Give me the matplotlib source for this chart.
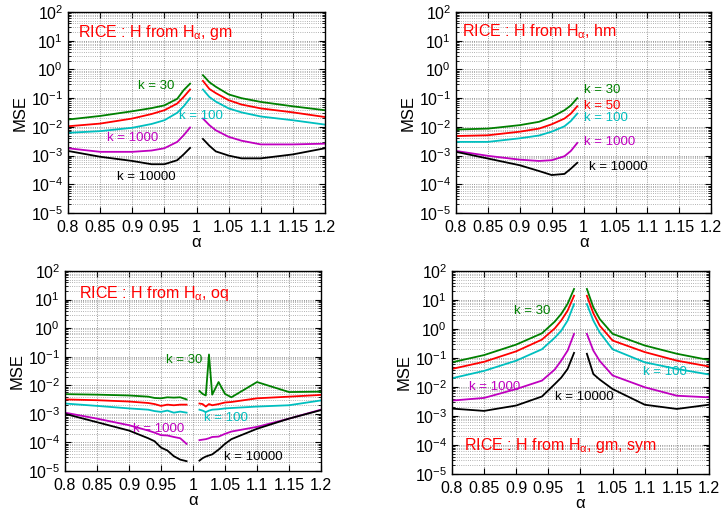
import matplotlib
matplotlib.use("Agg")
import matplotlib.pyplot as plt
from matplotlib.ticker import LogLocator, LogFormatterMathtext, FixedLocator, NullFormatter

plt.rcParams['font.family'] = ['Liberation Sans', 'DejaVu Sans']
plt.rcParams['mathtext.fontset'] = 'custom'
plt.rcParams['mathtext.rm'] = 'Liberation Sans'
plt.rcParams['mathtext.it'] = 'Liberation Sans:italic'

# ---------------- data ----------------
# Panel 1: gm
p1_aL = [0.80, 0.85, 0.90, 0.93, 0.95, 0.97, 0.98, 0.99]
p1_aR = [1.01, 1.02, 1.03, 1.05, 1.07, 1.10, 1.15, 1.20]
p1_k30_L = [1.8e-2, 2.4e-2, 3.5e-2, 4.5e-2, 5.6e-2, 9.5e-2, 0.19, 0.32]
p1_k30_R = [0.63, 0.36, 0.25, 0.135, 0.10, 0.074, 0.052, 0.038]
p1_k50_L = [1.05e-2, 1.3e-2, 1.95e-2, 2.8e-2, 3.8e-2, 6.5e-2, 0.11, 0.2]
p1_k50_R = [0.4, 0.21, 0.15, 0.085, 0.06, 0.044, 0.032, 0.022]
p1_k100_L = [6.2e-3, 7.1e-3, 9.3e-3, 1.26e-2, 1.7e-2, 3.1e-2, 5.2e-2, 0.1]
p1_k100_R = [0.2, 0.11, 0.076, 0.044, 0.032, 0.023, 0.017, 0.012]
p1_k1000_L = [1.8e-3, 1.35e-3, 1.35e-3, 1.5e-3, 1.8e-3, 3.0e-3, 5.1e-3, 9.5e-3]
p1_k1000_R = [1.95e-2, 1.15e-2, 7.6e-3, 4.5e-3, 3.3e-3, 2.45e-3, 2.45e-3, 2.6e-3]
p1_k10000_L = [1.45e-3, 9.1e-4, 6.5e-4, 5.0e-4, 5.0e-4, 6.9e-4, 1.1e-3, 1.85e-3]
p1_k10000_R = [3.8e-3, 2.2e-3, 1.4e-3, 1.0e-3, 8.0e-4, 8.0e-4, 1.1e-3, 1.8e-3]

# Panel 2: hm (left side only)
p2_aL = [0.80, 0.85, 0.90, 0.93, 0.95, 0.97, 0.98, 0.99]
p2_k30 = [8.1e-3, 8.7e-3, 1.15e-2, 1.5e-2, 2.2e-2, 3.8e-2, 5.6e-2, 0.1]
p2_k50 = [4.8e-3, 5.1e-3, 6.8e-3, 8.7e-3, 1.23e-2, 1.95e-2, 2.9e-2, 5.2e-2]
p2_k100 = [3.0e-3, 3.0e-3, 4.0e-3, 5.0e-3, 6.8e-3, 1.05e-2, 1.6e-2, 2.9e-2]
p2_k1000 = [1.45e-3, 9.8e-4, 7.2e-4, 6.5e-4, 6.9e-4, 9.5e-4, 1.45e-3, 2.75e-3]
p2_k10000 = [1.35e-3, 7.9e-4, 4.6e-4, 2.9e-4, 2.1e-4, 2.3e-4, 3.5e-4, 5.6e-4]

# Panel 3: oq
p3_aL = [0.80, 0.85, 0.90, 0.93, 0.94, 0.95, 0.96, 0.97, 0.98, 0.99]
p3_aR = [1.01, 1.015, 1.02, 1.025, 1.03, 1.04, 1.05, 1.06, 1.10, 1.15, 1.20]
p3_k30_L = [4.9e-3, 4.7e-3, 4.4e-3, 4.0e-3, 3.6e-3, 3.5e-3, 3.8e-3, 3.7e-3, 3.8e-3, 3.2e-3]
p3_k30_R = [6.3e-3, 5.0e-3, 4.4e-3, 0.12, 4.7e-3, 1.3e-2, 5.0e-3, 3.8e-3, 1.3e-2, 5.8e-3, 6.0e-3]
p3_k50_L = [3.2e-3, 3.0e-3, 2.7e-3, 2.4e-3, 2.2e-3, 1.9e-3, 2.1e-3, 2.0e-3, 2.1e-3, 2.1e-3]
p3_k50_R = [2.3e-3, 2.2e-3, 1.8e-3, 2.2e-3, 2.0e-3, 2.2e-3, 2.5e-3, 2.6e-3, 3.5e-3, 4.0e-3, 4.6e-3]
p3_k100_L = [2.3e-3, 1.9e-3, 1.55e-3, 1.4e-3, 1.25e-3, 1.17e-3, 1.3e-3, 1.1e-3, 1.2e-3, 1.1e-3]
p3_k100_R = [1.4e-3, 1.3e-3, 1.15e-3, 1.3e-3, 1.4e-3, 1.45e-3, 1.55e-3, 1.6e-3, 1.8e-3, 2.0e-3, 2.95e-3]
p3_k1000_L = [1.1e-3, 6.8e-4, 4.0e-4, 2.6e-4, 2.2e-4, 1.8e-4, 1.75e-4, 1.55e-4, 1.4e-4, 8.9e-5]
p3_k1000_R = [1.2e-4, 1.25e-4, 1.3e-4, 1.4e-4, 1.55e-4, 1.6e-4, 2.0e-4, 2.4e-4, 3.5e-4, 6.8e-4, 1.4e-3]
p3_k10000_L = [1.0e-3, 5.1e-4, 2.6e-4, 1.4e-4, 1.1e-4, 6.6e-5, 5.2e-5, 3.3e-5, 2.5e-5, 2.2e-5]
p3_k10000_R = [2.3e-5, 2.8e-5, 3.2e-5, 3.5e-5, 3.8e-5, 5.6e-5, 8.9e-5, 1.3e-4, 3.0e-4, 6.8e-4, 1.35e-3]

# Panel 4: gm, sym
p4_aL = [0.80, 0.85, 0.90, 0.94, 0.96, 0.97, 0.98, 0.99]
p4_aR = [1.01, 1.02, 1.03, 1.05, 1.10, 1.15, 1.20]
p4_k30_L = [0.071, 0.126, 0.29, 0.71, 1.8, 3.3, 7.4, 24]
p4_k30_R = [24, 5.6, 2.2, 0.68, 0.27, 0.14, 0.085]
p4_k50_L = [0.042, 0.074, 0.17, 0.43, 1.05, 1.95, 4.3, 14]
p4_k50_R = [14, 3.5, 1.3, 0.4, 0.16, 0.081, 0.051]
p4_k100_L = [0.02, 0.036, 0.081, 0.2, 0.5, 0.87, 1.95, 7.2]
p4_k100_R = [7.2, 1.95, 0.76, 0.2, 0.071, 0.042, 0.027]
p4_k1000_L = [3.4e-3, 4.2e-3, 8.5e-3, 1.66e-2, 4.0e-2, 8.1e-2, 0.18, 0.68]
p4_k1000_R = [0.68, 0.18, 0.079, 0.025, 9.8e-3, 5.0e-3, 4.4e-3]
p4_k10000_L = [1.8e-3, 1.5e-3, 2.3e-3, 4.7e-3, 1.26e-2, 2.1e-2, 4.2e-2, 0.15]
p4_k10000_R = [0.14, 2.8e-2, 1.8e-2, 8.5e-3, 2.45e-3, 1.75e-3, 2.45e-3]

xticks = [0.8, 0.85, 0.9, 0.95, 1, 1.05, 1.1, 1.15, 1.2]
xticklabels = ['0.8', '0.85', '0.9', '0.95', '1', '1.05', '1.1', '1.15', '1.2']

C30, C50, C100, C1000, C10000 = '#008000', '#ff0000', '#00bfbf', '#bf00bf', '#000000'
TXT = '#ff0000'

fig = plt.figure(figsize=(7.25, 5.14), dpi=100)
positions = [
    [0.0938, 0.5856, 0.3545, 0.391],
    [0.629, 0.5856, 0.352, 0.391],
    [0.0897, 0.0837, 0.353, 0.389],
    [0.6234, 0.0778, 0.3545, 0.395],
]
axes = [fig.add_axes(p) for p in positions]

def style(ax):
    ax.set_yscale('log')
    ax.set_xlim(0.8, 1.2)
    ax.set_ylim(1e-5, 1e2)
    ax.yaxis.set_major_locator(LogLocator(base=10, numticks=20))
    ax.yaxis.set_minor_locator(LogLocator(base=10, subs=range(2, 10), numticks=20))
    ax.yaxis.set_major_formatter(LogFormatterMathtext())
    ax.yaxis.set_minor_formatter(NullFormatter())
    ax.xaxis.set_major_locator(FixedLocator(xticks))
    ax.set_xticklabels(xticklabels)
    ax.tick_params(axis='both', which='both', direction='in', top=True, right=True,
                   labelsize=11.5)
    ax.tick_params(which='major', length=4)
    ax.tick_params(which='minor', length=2)
    ax.tick_params(axis='x', pad=5)
    ax.grid(True, which='major', linestyle=':', color='#777777', linewidth=0.6)
    ax.grid(True, which='minor', axis='y', linestyle=':', color='#999999', linewidth=0.6)
    ax.set_xlabel('α', fontsize=12, labelpad=0)
    ax.set_ylabel('MSE', fontsize=12, labelpad=2)
    for s in ax.spines.values():
        s.set_linewidth(1.0)

lw = 1.3
for ax in axes:
    style(ax)

SUB = r'$_{\mathrm{α}}$'

# Panel 1
ax = axes[0]
for aL, aR, yL, yR, c in [
    (p1_aL, p1_aR, p1_k30_L, p1_k30_R, C30),
    (p1_aL, p1_aR, p1_k50_L, p1_k50_R, C50),
    (p1_aL, p1_aR, p1_k100_L, p1_k100_R, C100),
    (p1_aL, p1_aR, p1_k1000_L, p1_k1000_R, C1000),
    (p1_aL, p1_aR, p1_k10000_L, p1_k10000_R, C10000),
]:
    ax.plot(aL, yL, color=c, lw=lw)
    ax.plot(aR, yR, color=c, lw=lw)
ax.text(0.04, 0.90, 'RICE : H from H' + SUB + ', gm', transform=ax.transAxes,
        color=TXT, fontsize=11.5, va='center')
ax.text(0.909, 10**-0.58, 'k = 30', color=C30, fontsize=9.5, va='center')
ax.text(0.973, 10**-1.62, 'k = 100', color=C100, fontsize=9.5, va='center')
ax.text(0.861, 10**-2.39, 'k = 1000', color=C1000, fontsize=9.5, va='center')
ax.text(0.876, 10**-3.75, 'k = 10000', color=C10000, fontsize=9.5, va='center')

# Panel 2
ax = axes[1]
for y, c in [(p2_k30, C30), (p2_k50, C50), (p2_k100, C100), (p2_k1000, C1000), (p2_k10000, C10000)]:
    ax.plot(p2_aL, y, color=c, lw=lw)
ax.text(0.025, 0.90, 'RICE : H from H' + SUB + ', hm', transform=ax.transAxes,
        color=TXT, fontsize=11.5, va='center')
ax.text(1.0, 10**-0.72, 'k = 30', color=C30, fontsize=9.5, va='center')
ax.text(1.0, 10**-1.28, 'k = 50', color=C50, fontsize=9.5, va='center')
ax.text(1.0, 10**-1.69, 'k = 100', color=C100, fontsize=9.5, va='center')
ax.text(1.0, 10**-2.53, 'k = 1000', color=C1000, fontsize=9.5, va='center')
ax.text(1.009, 10**-3.40, 'k = 10000', color=C10000, fontsize=9.5, va='center')

# Panel 3
ax = axes[2]
for aL, aR, yL, yR, c in [
    (p3_aL, p3_aR, p3_k30_L, p3_k30_R, C30),
    (p3_aL, p3_aR, p3_k50_L, p3_k50_R, C50),
    (p3_aL, p3_aR, p3_k100_L, p3_k100_R, C100),
    (p3_aL, p3_aR, p3_k1000_L, p3_k1000_R, C1000),
    (p3_aL, p3_aR, p3_k10000_L, p3_k10000_R, C10000),
]:
    ax.plot(aL, yL, color=c, lw=lw)
    ax.plot(aR, yR, color=c, lw=lw)
ax.text(0.055, 0.89, 'RICE : H from H' + SUB + ', oq', transform=ax.transAxes,
        color=TXT, fontsize=11.5, va='center')
ax.text(0.958, 10**-1.1, 'k = 30', color=C30, fontsize=9.5, va='center')
ax.text(1.017, 10**-3.16, 'k = 100', color=C100, fontsize=9.5, va='center')
ax.text(0.906, 10**-3.52, 'k = 1000', color=C1000, fontsize=9.5, va='center')
ax.text(1.048, 10**-4.51, 'k = 10000', color=C10000, fontsize=9.5, va='center')

# Panel 4
ax = axes[3]
for aL, aR, yL, yR, c in [
    (p4_aL, p4_aR, p4_k30_L, p4_k30_R, C30),
    (p4_aL, p4_aR, p4_k50_L, p4_k50_R, C50),
    (p4_aL, p4_aR, p4_k100_L, p4_k100_R, C100),
    (p4_aL, p4_aR, p4_k1000_L, p4_k1000_R, C1000),
    (p4_aL, p4_aR, p4_k10000_L, p4_k10000_R, C10000),
]:
    ax.plot(aL, yL, color=c, lw=lw)
    ax.plot(aR, yR, color=c, lw=lw)
ax.text(0.819, 10**-4.03, 'RICE : H from H' + SUB + ', gm, sym',
        color=TXT, fontsize=11.5, va='center')
ax.text(0.897, 10**0.62, 'k = 30', color=C30, fontsize=9.5, va='center')
ax.text(1.097, 10**-1.48, 'k = 100', color=C100, fontsize=9.5, va='center')
ax.text(0.826, 10**-2.0, 'k = 1000', color=C1000, fontsize=9.5, va='center')
ax.text(0.96, 10**-2.34, 'k = 10000', color=C10000, fontsize=9.5, va='center')

fig.savefig('out.png', dpi=100)
